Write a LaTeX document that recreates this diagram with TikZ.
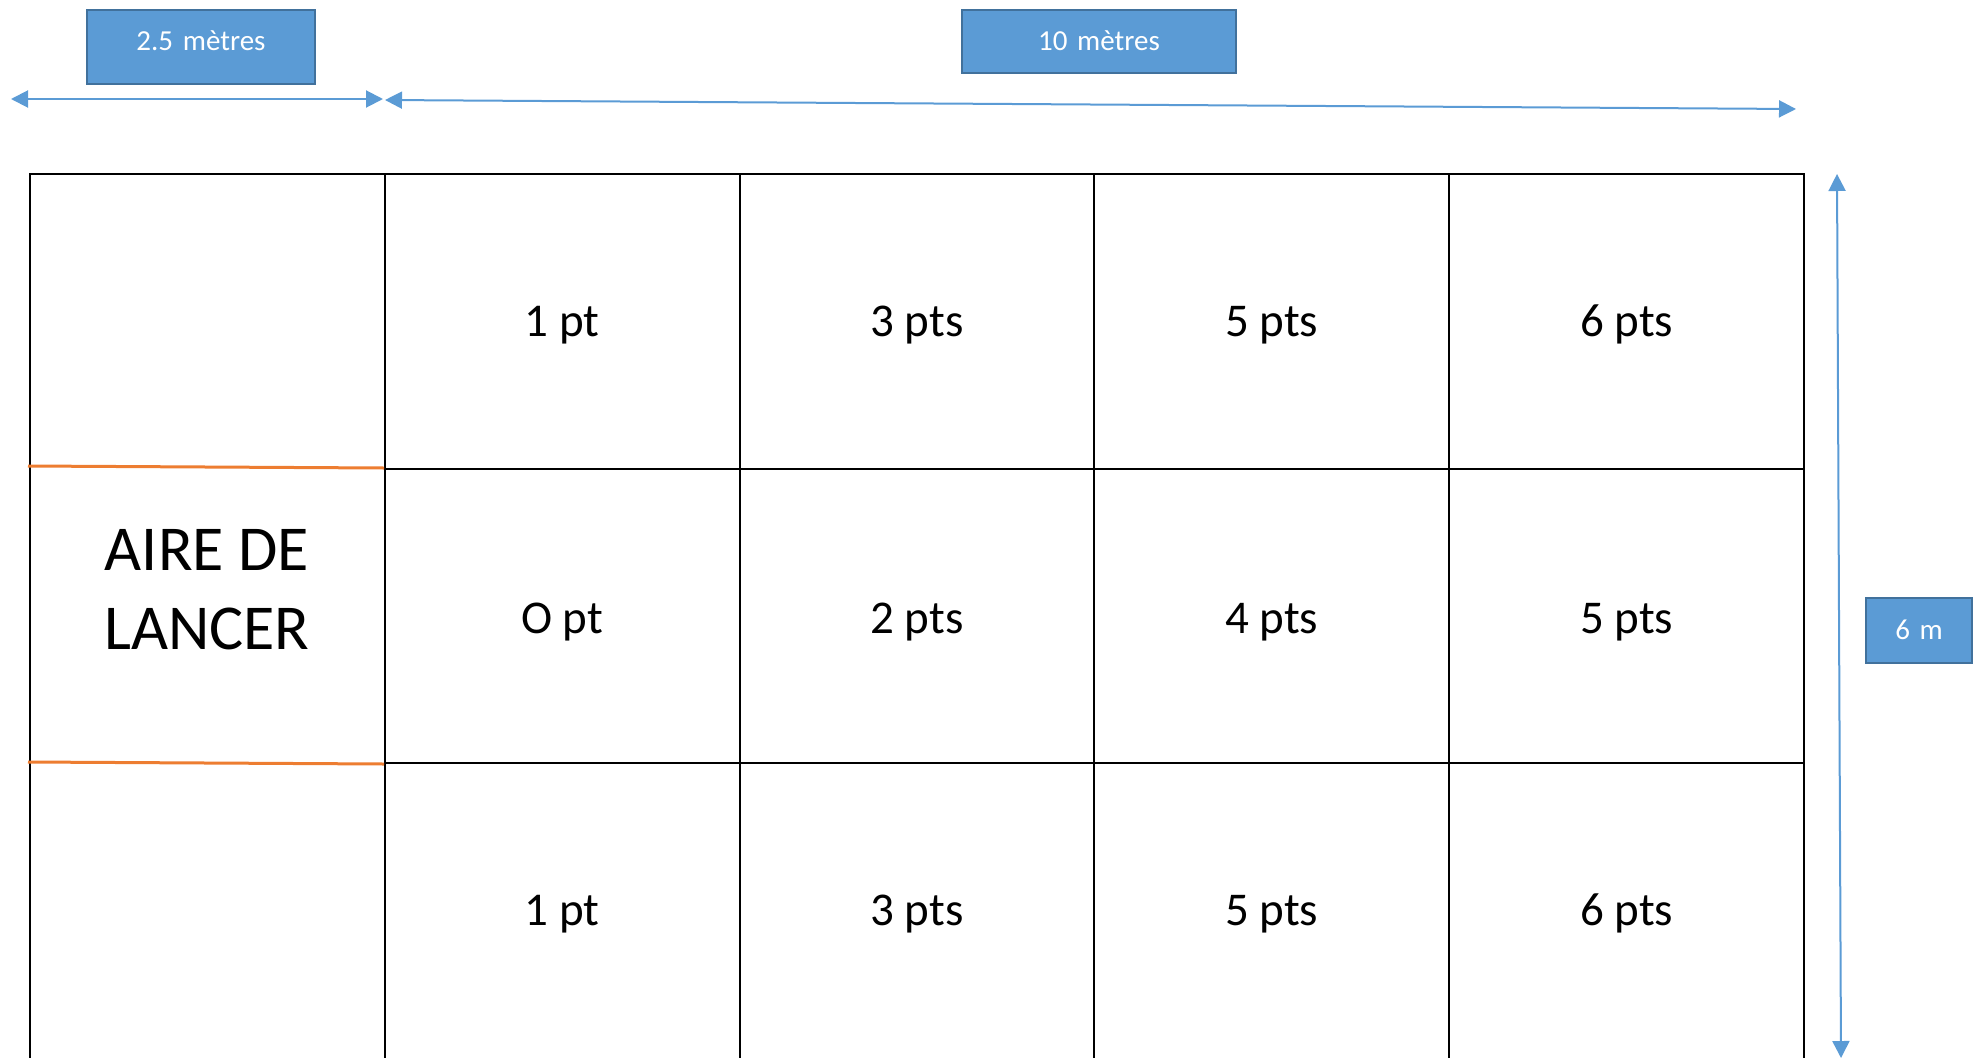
\documentclass[tikz,border=0pt]{standalone}
\usepackage{fontspec}
\setmainfont{Carlito}
\usepackage{xcolor}
\usepackage{tikz}
\usetikzlibrary{arrows.meta}

\definecolor{boxblue}{HTML}{5B9BD5}
\definecolor{boxedge}{HTML}{41719C}
\definecolor{zoneorange}{HTML}{ED7D31}

\begin{document}
\begin{tikzpicture}[x=1pt, y=-1pt,
    dimbox/.style={draw=boxedge, line width=2pt, fill=boxblue, text=white, inner sep=0pt,
      align=center, anchor=north, text height=41pt, font=\fontsize{29}{35}\selectfont},
    dimarrow/.style={boxblue, line width=2pt,
      {Triangle[length=17pt,width=17pt]}-{Triangle[length=17pt,width=17pt]}},
    gridline/.style={black, line width=2pt},
    zoneline/.style={zoneorange, line width=3pt},
    score/.style={anchor=base, font=\fontsize{47}{56}\selectfont}]
  \useasboundingbox (0,0) rectangle (1988,1057);
  \clip (0,0) rectangle (1988,1057);

  % dimension labels
  \node[dimbox, text width=228pt, text depth=33pt] (lbl-throw) at (201,9) {2.5 mètres};
  \node[dimbox, text width=274pt, text depth=22pt] (lbl-field) at (1099,9) {10 mètres};
  \node[dimbox, text width=106pt, text depth=24pt] (lbl-width) at (1919,597) {6 m};

  % dimension arrows
  \coordinate (throw-w) at (11,99);
  \coordinate (throw-e) at (383,99);
  \coordinate (field-w) at (385,100);
  \coordinate (field-e) at (1796,109);
  \coordinate (side-n) at (1837,174);
  \coordinate (side-s) at (1841,1058);
  \draw[dimarrow] (throw-w) -- (throw-e);
  \draw[dimarrow] (field-w) -- (field-e);
  \draw[dimarrow] (side-n) -- (side-s);

  % grid
  \foreach \i in {0,...,5} {
    \draw[gridline] (30+354.8*\i,173) -- (30+354.8*\i,1060);
  }
  \draw[gridline] (29,174) -- (1805,174);
  \foreach \j in {1,2} {
    \draw[gridline] (384,174+294.5*\j) -- (1805,174+294.5*\j);
  }
  \draw[zoneline] (28,466) -- (384,468);
  \draw[zoneline] (28,762) -- (384,764);

  % throwing area
  \node[align=center, inner sep=0pt, font=\fontsize{64}{79}\selectfont] (throw-zone) at (207,590) {AIRE DE\\LANCER};

  % scores
  \foreach \c/\top/\mid/\bot in {1/1 pt/O pt/1 pt, 2/3 pts/2 pts/3 pts, 3/5 pts/4 pts/5 pts, 4/6 pts/5 pts/6 pts} {
    \node[score] (top-\c) at (30+354.8*\c+177.4,336) {\top};
    \node[score] (mid-\c) at (30+354.8*\c+177.4,633) {\mid};
    \node[score] (bot-\c) at (30+354.8*\c+177.4,925) {\bot};
  }
\end{tikzpicture}
\end{document}
